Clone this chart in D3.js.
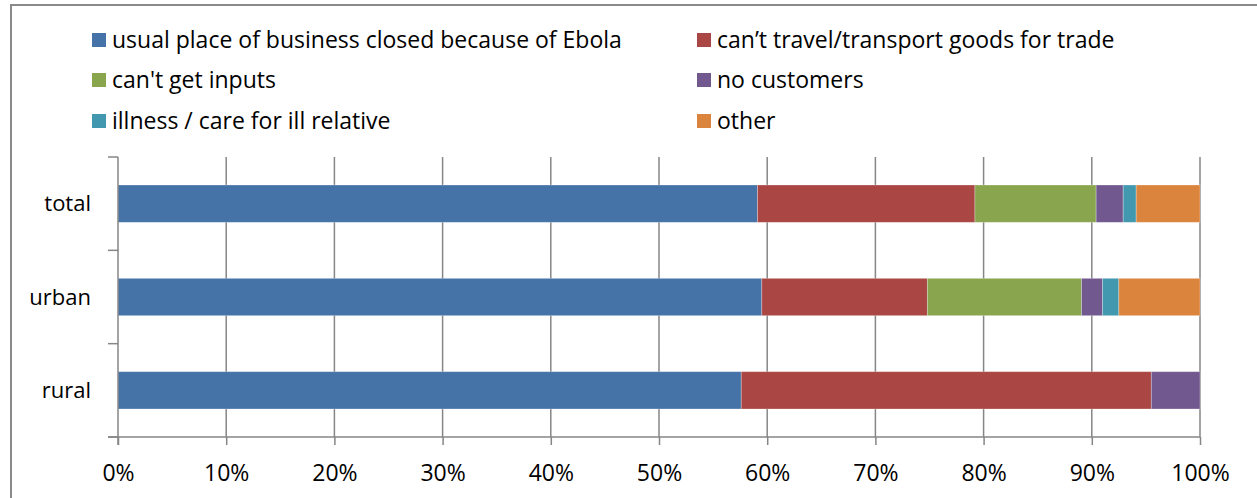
<!DOCTYPE html>
<html>
<head>
<meta charset="utf-8">
<script src="https://cdn.jsdelivr.net/npm/d3@7"></script>
<style>
  html, body { margin: 0; padding: 0; background: #fff; }
  svg { display: block; }
  text { font-family: "Open Sans", Lato, sans-serif; fill: #000; }
</style>
</head>
<body>
<svg id="chart" width="1257" height="498"></svg>
<script>
// Area groups (top to bottom)
const categories = ["total", "urban", "rural"];

// Reasons for stopping work, share of respondents (%)
const seriesNames = [
  "usual place of business closed because of Ebola",
  "can\u2019t travel/transport goods for trade",
  "can't get inputs",
  "no customers",
  "illness / care for ill relative",
  "other"
];
const closedBusiness = [59.1, 59.5, 57.6];
const cantTravel     = [20.1, 15.3, 37.9];
const cantGetInputs  = [11.2, 14.25, 0];
const noCustomers    = [2.5, 1.95, 4.5];
const illness        = [1.2, 1.5, 0];
const other          = [5.9, 7.5, 0];

const seriesColors = ["#4572A7", "#AA4643", "#89A54E", "#71588F", "#4198AF", "#DB843D"];
const tickValues = [0, 10, 20, 30, 40, 50, 60, 70, 80, 90, 100];

const seriesValues = [closedBusiness, cantTravel, cantGetInputs, noCustomers, illness, other];
const rows = categories.map((c, i) => {
  const r = { category: c };
  seriesNames.forEach((s, j) => { r[s] = seriesValues[j][i]; });
  return r;
});

const FONT_SIZE = "23px";
const svg = d3.select("#chart");

// Outer chart frame
svg.append("rect")
  .attr("x", 11).attr("y", 5)
  .attr("width", 1300).attr("height", 600)
  .attr("fill", "none").attr("stroke", "#8a8a8a").attr("stroke-width", 2);

const plot = { left: 118, right: 1200, top: 157, bottom: 437 };

const x = d3.scaleLinear().domain([0, 100]).range([plot.left, plot.right]);
const y = d3.scaleBand().domain(categories)
  .range([plot.top, plot.bottom])
  .paddingInner(0.6).paddingOuter(0.3);

// Vertical gridlines
svg.append("g").selectAll("line")
  .data(tickValues.filter(v => v > 0))
  .join("line")
  .attr("x1", d => x(d)).attr("x2", d => x(d))
  .attr("y1", plot.top).attr("y2", plot.bottom)
  .attr("stroke", "#868686").attr("stroke-width", 1.5);

// Stacked bars
const stack = d3.stack().keys(seriesNames);
const layers = stack(rows);

svg.append("g").selectAll("g")
  .data(layers)
  .join("g")
  .attr("fill", (d, i) => seriesColors[i])
  .selectAll("rect")
  .data(d => d.filter(p => p[1] - p[0] > 0))
  .join("rect")
  .attr("x", d => x(d[0]))
  .attr("y", d => y(d.data.category))
  .attr("width", d => x(d[1]) - x(d[0]))
  .attr("height", y.bandwidth())
  .attr("stroke", "rgba(255,255,255,0.35)")
  .attr("stroke-width", 0.8);

// X axis
const xAxis = d3.axisBottom(x)
  .tickValues(tickValues)
  .tickFormat(d => d + "%")
  .tickSize(8)
  .tickSizeOuter(0)
  .tickPadding(20);
const gx = svg.append("g")
  .attr("transform", `translate(0,${plot.bottom})`)
  .call(xAxis);
gx.select(".domain").attr("stroke", "#868686").attr("stroke-width", 1.5)
  .attr("d", `M${plot.left - 10},0H${plot.right}`);
gx.selectAll(".tick line").attr("stroke", "#868686").attr("stroke-width", 1.5);
gx.selectAll(".tick text")
  .style("font-family", "'Open Sans', Lato, sans-serif")
  .style("font-size", FONT_SIZE).attr("fill", "#000");

// Y axis: ticks at band boundaries, labels at band centres
const gy = svg.append("g");
gy.append("line")
  .attr("x1", plot.left).attr("x2", plot.left)
  .attr("y1", plot.top).attr("y2", plot.bottom + 8)
  .attr("stroke", "#868686").attr("stroke-width", 1.5);
const boundaries = d3.range(categories.length + 1)
  .map(i => plot.top + i * (plot.bottom - plot.top) / categories.length);
gy.selectAll("line.tick")
  .data(boundaries)
  .join("line")
  .attr("class", "tick")
  .attr("x1", plot.left - 10).attr("x2", plot.left)
  .attr("y1", d => d).attr("y2", d => d)
  .attr("stroke", "#868686").attr("stroke-width", 1.5);
gy.selectAll("text")
  .data(categories)
  .join("text")
  .attr("x", plot.left - 27)
  .attr("y", d => y(d) + y.bandwidth() / 2)
  .attr("dy", "0.35em")
  .attr("text-anchor", "end")
  .style("font-size", "22px")
  .text(d => d);

// Legend: two columns, three rows
const legend = svg.append("g");
const colX = [92, 697];
const rowY = [40, 80, 121];
seriesNames.forEach((name, i) => {
  const col = i % 2, row = Math.floor(i / 2);
  const g = legend.append("g")
    .attr("transform", `translate(${colX[col]},${rowY[row]})`);
  g.append("rect")
    .attr("x", 0).attr("y", -7)
    .attr("width", 14).attr("height", 14)
    .attr("fill", seriesColors[i]);
  g.append("text")
    .attr("x", 20).attr("y", 0)
    .attr("dy", "0.35em")
    .style("font-size", FONT_SIZE)
    .text(name);
});
</script>
</body>
</html>
